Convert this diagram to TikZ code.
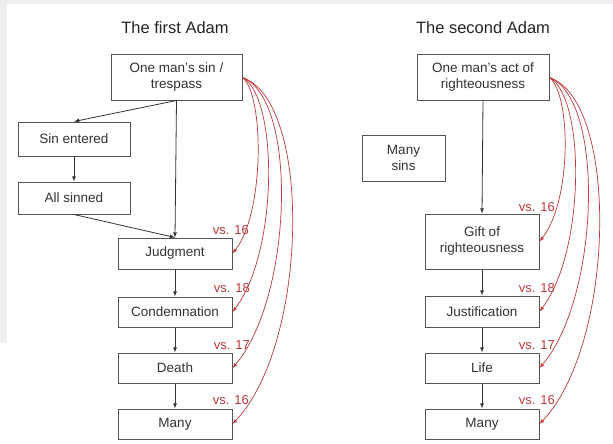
\documentclass[tikz,border=0pt]{standalone}
\usepackage{fontspec}
\setmainfont{Liberation Sans}
\definecolor{boxline}{HTML}{555555}
\definecolor{vsred}{HTML}{C0393B}
\definecolor{paper}{HTML}{EFEEEC}

\begin{document}
\begin{tikzpicture}[x=1pt,y=-1pt,>=latex,
  box/.style={draw=boxline, line width=1pt, fill=white, text=black!80,
    align=center, inner sep=0pt, font=\fontsize{13.5}{16}\selectfont},
  title/.style={text=black!85, font=\fontsize{16.5}{20}\selectfont},
  vs/.style={anchor=east, text=vsred, inner sep=0pt, font=\fontsize{13}{15}\selectfont},
  link/.style={->, draw=black!80, line width=0.8pt},
  cite/.style={->, draw=vsred, line width=0.7pt}]

% Page background
\fill[paper] (0,0) rectangle (613,444);
\fill[white] (7,4) rectangle (613,444);
\fill[white] (0,343) rectangle (7,444);
\useasboundingbox (0,0) rectangle (613,444);

% The first Adam
\node[title] (titleA) at (175,28) {The first Adam};
\node[box, minimum width=131, minimum height=45] (sinA) at (176.5,77.5) {One man's sin /\\trespass};
\node[box, minimum width=112, minimum height=34] (entered) at (74,139) {Sin entered};
\node[box, minimum width=112, minimum height=32] (allsin) at (74,198) {All sinned};
\node[box, minimum width=114, minimum height=31] (judg) at (175,253.5) {Judgment};
\node[box, minimum width=114, minimum height=30] (cond) at (175,312) {Condemnation};
\node[box, minimum width=114, minimum height=30] (death) at (175,368) {Death};
\node[box, minimum width=114, minimum height=30] (manyA) at (175,424) {Many};

\draw[link] (sinA.south) -- (entered.north);
\draw[link] (entered) -- (allsin);
\draw[link] (allsin.south) -- (judg.north);
\draw[link] (sinA.south) -- (judg.north);
\draw[link] (judg) -- (cond);
\draw[link] (cond) -- (death);
\draw[link] (death) -- (manyA);

% Verse arrows, first Adam
\draw[cite] (sinA.east) .. controls +(22,18) and +(32,-40) .. (judg.east);
\draw[cite] (sinA.east) .. controls +(36,20) and +(46,-60) .. (cond.east);
\draw[cite] (sinA.east) .. controls +(56,22) and +(60,-70) .. (death.east);
\draw[cite] (sinA.east) .. controls +(70,24) and +(76,-80) .. (manyA.east);

\node[vs] (vsA1) at (249,230) {vs. 16};
\node[vs] (vsA2) at (250,288) {vs. 18};
\node[vs] (vsA3) at (250,345) {vs. 17};
\node[vs] (vsA4) at (249,400) {vs. 16};

% The second Adam
\node[title] (titleB) at (483,28) {The second Adam};
\node[box, minimum width=132, minimum height=45] (actB) at (483,77.5) {One man's act of\\righteousness};
\node[box, minimum width=83, minimum height=46] (manysins) at (403.5,158) {Many\\sins};
\node[box, minimum width=114, minimum height=55] (gift) at (482,241.5) {Gift of\\righteousness};
\node[box, minimum width=114, minimum height=31] (just) at (482,311.5) {Justification};
\node[box, minimum width=114, minimum height=30] (life) at (482,368) {Life};
\node[box, minimum width=114, minimum height=30] (manyB) at (482,424) {Many};

\draw[link] (actB.south) -- (gift.north);
\draw[link] (gift) -- (just);
\draw[link] (just) -- (life);
\draw[link] (life) -- (manyB);

% Verse arrows, second Adam
\draw[cite] (actB.east) .. controls +(22,18) and +(32,-40) .. (gift.east);
\draw[cite] (actB.east) .. controls +(36,20) and +(46,-60) .. (just.east);
\draw[cite] (actB.east) .. controls +(56,22) and +(60,-70) .. (life.east);
\draw[cite] (actB.east) .. controls +(70,24) and +(76,-80) .. (manyB.east);

\node[vs] (vsB1) at (555,207) {vs. 16};
\node[vs] (vsB2) at (555,288) {vs. 18};
\node[vs] (vsB3) at (555,345) {vs. 17};
\node[vs] (vsB4) at (555,400) {vs. 16};

\end{tikzpicture}
\end{document}
